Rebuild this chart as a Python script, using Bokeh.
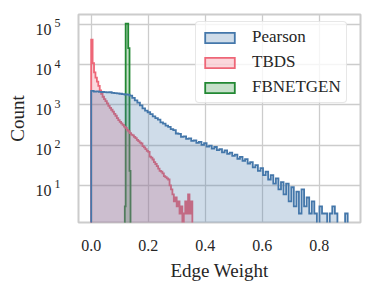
from bokeh.plotting import figure
from bokeh.models import (FixedTicker, PrintfTickFormatter, CustomJSTickFormatter,
                          Legend, LegendItem, Range1d, LogAxis)
from bokeh.embed import file_html
from bokeh.resources import INLINE

# ---------------- data ----------------
series_names = ["Pearson", "TBDS", "FBNETGEN"]

pearson_bin_width = 0.009
pearson_counts = [
    2250, 2150, 2180, 2120, 2100,
    2080, 2050, 2070, 2000, 1980,
    1950, 1900, 1870, 1820, 1800,
    1700, 1500, 1300, 1150, 980,
    820, 720, 660, 590, 520,
    470, 430, 370, 345, 305,
    285, 250, 236, 195, 192,
    160, 166, 144, 148, 128,
    131, 114, 121, 102, 112,
    92, 98, 82, 90, 75,
    80, 66, 74, 61, 65,
    54, 58, 46, 51, 41,
    45, 35, 38, 28, 32,
    23, 27, 18, 22, 14,
    18, 11, 15, 8, 12,
    6, 11, 4, 9, 3,
    7, 2, 8, 3, 5,
    2, 4, 2, 0, 3,
    2, 2, 0, 2, 3,
    2, 0, 0, 0, 2,
]

tbds_bin_width = 0.005
tbds_counts = [
    42000, 11000, 6500, 4800, 3800,
    3000, 2300, 1900, 1600, 1400,
    1250, 1100, 950, 850, 760,
    680, 600, 540, 470, 420,
    380, 350, 320, 290, 270,
    240, 222, 200, 182, 176,
    160, 150, 135, 126, 116,
    110, 95, 88, 80, 72,
    68, 52, 49, 44, 38,
    34, 30, 26, 23, 22,
    20, 17, 16, 15, 14,
    10, 8, 6, 4, 5,
    3, 4, 2, 3, 0,
    2, 4, 2, 6, 2,
    4,
]

fbnetgen_edges = [0.118, 0.121, 0.130, 0.1345, 0.138]
fbnetgen_counts = [3, 105000, 26000, 23]

x_ticks = [0.0, 0.2, 0.4, 0.6, 0.8]
y_tick_exponents = [1, 2, 3, 4, 5]

colors = {"Pearson": "#4477AA", "TBDS": "#EE6677", "FBNETGEN": "#228833"}

# ---------------- helpers ----------------
BASE = 0.3  # below the visible y range


def step_polygon(edges, counts):
    xs = [edges[0]]
    ys = [BASE]
    for i, c in enumerate(counts):
        h = c if c > 0 else BASE
        xs += [edges[i], edges[i + 1]]
        ys += [h, h]
    xs.append(edges[-1])
    ys.append(BASE)
    return xs, ys


pearson_edges = [round(i * pearson_bin_width, 6) for i in range(len(pearson_counts) + 1)]
tbds_edges = [round(i * tbds_bin_width, 6) for i in range(len(tbds_counts) + 1)]
y_ticks = [10 ** e for e in y_tick_exponents]

# typographic placement of the "10^k" labels (mantissa a bit low, exponent raised)
MANTISSA_SHIFT = -0.115   # in decades
EXPONENT_SHIFT = 0.03     # in decades
mantissa_ticks = [10 ** (e + MANTISSA_SHIFT) for e in y_tick_exponents]
exponent_ticks = [10 ** (e + EXPONENT_SHIFT) for e in y_tick_exponents]

data = {
    "Pearson": (pearson_edges, pearson_counts),
    "TBDS": (tbds_edges, tbds_counts),
    "FBNETGEN": (fbnetgen_edges, fbnetgen_counts),
}

FONT = "Liberation Serif"
TEXT = "#262626"

p = figure(
    frame_width=282, frame_height=208,
    y_axis_type="log",
    x_range=Range1d(-0.0445, 0.945),
    y_range=Range1d(10 ** 0.077, 10 ** 5.25),
    output_backend="svg", toolbar_location=None,
    min_border_left=78, min_border_right=13, min_border_top=14, min_border_bottom=70,
    background_fill_color="white", border_fill_color="white",
)

renderers = {}
# seaborn layers are drawn in reverse order (first hue on top)
for name in reversed(series_names):
    edges, counts = data[name]
    xs, ys = step_polygon(edges, counts)
    renderers[name] = p.patch(xs, ys, fill_color=colors[name], fill_alpha=0.26,
                              line_color=colors[name], line_width=1.8,
                              line_join="miter")

# outer left axis: mantissa "10" and the axis title
outer_y = LogAxis(ticker=FixedTicker(ticks=mantissa_ticks),
                  formatter=CustomJSTickFormatter(code="return '10';"),
                  axis_label="Count")
p.add_layout(outer_y, "left")

# axes
p.xaxis.ticker = FixedTicker(ticks=x_ticks)
p.xaxis.formatter = PrintfTickFormatter(format="%.1f")
inner_y = p.yaxis[0]
inner_y.ticker = FixedTicker(ticks=exponent_ticks)
# inner left axis: the exponents, drawn as superscripts
inner_y.formatter = CustomJSTickFormatter(
    code="return String(Math.round(Math.log10(tick)));")
p.ygrid.ticker = FixedTicker(ticks=y_ticks)

p.xaxis.axis_label = "Edge Weight"
for ax in (p.xaxis[0], inner_y, outer_y):
    ax.axis_line_color = None
    ax.major_tick_line_color = None
    ax.minor_tick_line_color = None
    ax.major_tick_out = 0
    ax.major_tick_in = 0
    ax.major_label_text_font = FONT
    ax.major_label_text_color = TEXT
    ax.axis_label_text_font = FONT
    ax.axis_label_text_font_style = "normal"
    ax.axis_label_text_color = TEXT
    ax.axis_label_text_font_size = "19px"

p.xaxis.major_label_text_font_size = "16px"
p.xaxis.major_label_standoff = 17
p.xaxis.axis_label_standoff = 6

inner_y.major_label_text_font_size = "12px"
inner_y.major_label_standoff = 18

outer_y.major_label_text_font_size = "16px"
outer_y.major_label_standoff = 0
outer_y.axis_label_standoff = 5

p.grid.grid_line_color = "#cccccc"
p.grid.grid_line_width = 1.3
p.outline_line_color = "#cccccc"
p.outline_line_width = 2

legend = Legend(
    items=[LegendItem(label=n, renderers=[renderers[n]]) for n in series_names],
    location=(117, 119),
    margin=0, padding=5, spacing=5,
    glyph_width=37, glyph_height=13, label_height=20, label_standoff=14,
    label_text_font=FONT, label_text_font_size="17px", label_text_color=TEXT,
    border_line_color="#d0d0d0", border_line_width=1.2, border_radius=4,
    background_fill_color="white", background_fill_alpha=0.8,
)
p.add_layout(legend)

with open("out.html", "w", encoding="utf-8") as f:
    f.write(file_html(p, INLINE))
